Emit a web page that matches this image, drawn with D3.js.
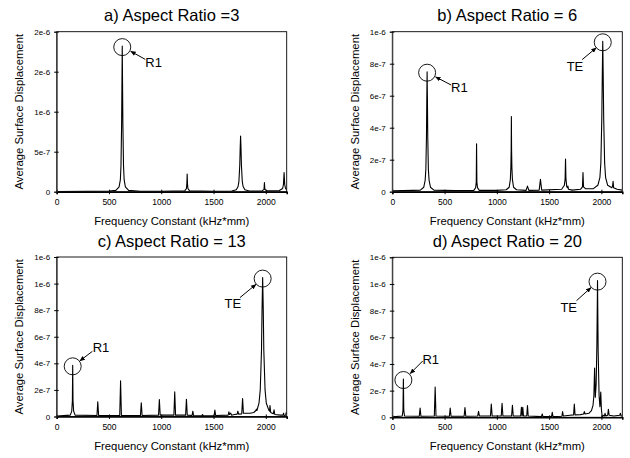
<!DOCTYPE html>
<html><head><meta charset="utf-8">
<script src="https://cdn.jsdelivr.net/npm/d3@7"></script>
<style>
html,body{margin:0;padding:0;background:#fff;}
text{font-family:"Liberation Sans",Arial,sans-serif;fill:#000;}
</style></head>
<body>
<svg id="chart" width="630" height="458"></svg>
<script>
// ---------- DATA ----------
const titles = ["a) Aspect Ratio =3", "b) Aspect Ratio = 6", "c) Aspect Ratio = 13", "d) Aspect Ratio = 20"];
const xTicks = [0, 500, 1000, 1500, 2000];
const xTickLabels = ["0", "500", "1000", "1500", "2000"];
const yTicksA = [0, 5e-7, 1e-6, 1.5e-6, 2e-6];
const yLabelsA = ["0", "5e-7", "1e-6", "2e-6", "2e-6"];
const yTicksB = [0, 2e-7, 4e-7, 6e-7, 8e-7, 1e-6];
const yLabelsB = ["0", "2e-7", "4e-7", "6e-7", "8e-7", "1e-6"];
const yTicksCD = [0, 2e-7, 4e-7, 6e-7, 8e-7, 1e-6, 1.2e-6];
const yLabelsCD = ["0", "2e-7", "4e-7", "6e-7", "8e-7", "1e-6", "1e-6"];
const yMax = [2e-6, 1e-6, 1.2e-6, 1.2e-6];
const xMax = 2200;

// spectra: [frequency constant, average surface displacement]
const spectrumA = [
  [0,3e-9],[300,5e-9],[500,8e-9],[566,1.6e-8],[597,6e-8],[609,1.5e-7],[615,3.3e-7],[621,8.5e-7],[627,1.82e-6],
  [633,8.5e-7],[639,3.3e-7],[645,1.5e-7],[657,6e-8],[688,1.6e-8],[800,6e-9],[1000,5e-9],
  [1225,1e-8],[1241,4e-8],[1245,1e-7],[1248,2.2e-7],[1251,1e-7],[1255,4e-8],[1271,1e-8],
  [1500,6e-9],[1675,8e-9],[1718,2.5e-8],[1735,6.5e-8],[1743,1.3e-7],[1751,3.3e-7],[1755,5.4e-7],[1759,6.96e-7],
  [1763,5.4e-7],[1767,3.3e-7],[1775,1.3e-7],[1783,6.5e-8],[1800,2.5e-8],[1843,8e-9],
  [1965,1e-8],[1983,3e-8],[1987,1.13e-7],[1991,3e-8],[2010,1e-8],
  [2130,1.5e-8],[2161,4e-8],[2169,9e-8],[2175,2.4e-7],[2181,9e-8],[2189,4e-8],[2200,2.5e-8]
];
const spectrumB = [
  [0,5e-9],[200,8e-9],[268,1e-8],[301,2.8e-8],[314,7e-8],[321,1.4e-7],[327,3.5e-7],[330,5.8e-7],[333,7.5e-7],
  [336,5.8e-7],[339,3.5e-7],[345,1.4e-7],[352,7e-8],[365,2.8e-8],[398,1e-8],[600,7e-9],
  [780,8e-9],[797,2.5e-8],[803,6e-8],[806,3e-7],[809,6e-8],[815,2.5e-8],[832,8e-9],[1000,8e-9],
  [1090,1.2e-8],[1118,2.8e-8],[1129,7.5e-8],[1134,1.5e-7],[1137,2.6e-7],[1139,4.7e-7],[1141,2.6e-7],[1144,1.5e-7],
  [1149,7.5e-8],[1160,2.8e-8],[1188,1.2e-8],
  [1280,8e-9],[1293,3.5e-8],[1306,8e-9],[1405,1e-8],[1417,7.7e-8],[1429,1e-8],
  [1620,1.5e-8],[1646,4e-8],[1653,8e-8],[1657,2.04e-7],[1661,8e-8],[1669,3e-8],[1676,2.5e-8],[1680,3.5e-8],[1685,1.5e-8],[1720,1e-8],
  [1800,1.5e-8],[1819,3e-8],[1824,1.2e-7],[1829,3e-8],[1850,1.8e-8],
  [1920,1.8e-8],[1966,4e-8],[1986,9e-8],[1995,1.8e-7],[2004,4.6e-7],[2009,7.5e-7],[2013,9.4e-7],
  [2017,7.5e-7],[2022,4.6e-7],[2031,1.8e-7],[2040,9e-8],[2060,4e-8],[2100,2.5e-8],[2107,3.5e-8],
  [2112,6.5e-8],[2117,2.5e-8],[2150,1.5e-8],[2200,1e-8]
];
const spectrumC = [
  [0,3e-9],[130,1e-8],[144,4e-8],[150,1.2e-7],[153,3.85e-7],[156,1.2e-7],[162,4e-8],[176,1e-8],
  [385,8e-9],[393,1.1e-7],[401,8e-9],[603,8e-9],[611,2.68e-7],[619,8e-9],[801,8e-9],[809,1.03e-7],[817,8e-9],
  [974,1e-8],[982,1.28e-7],[990,1e-8],[1121,1e-8],[1129,1.85e-7],[1137,1e-8],[1233,1e-8],[1241,1.3e-7],[1249,1e-8],
  [1295,8e-9],[1302,4e-8],[1309,8e-9],[1388,5e-9],[1395,1.5e-8],[1402,5e-9],[1506,8e-9],[1513,4.8e-8],[1520,8e-9],
  [1640,1e-8],[1647,3.5e-8],[1654,1.5e-8],[1665,2.5e-8],[1672,1e-8],[1700,1.5e-8],[1726,1.8e-8],[1733,4e-8],[1740,1.8e-8],
  [1770,2e-8],[1778,1.35e-7],[1786,2.5e-8],[1850,2.5e-8],[1885,3e-8],[1905,4.5e-8],[1910,5.5e-8],[1915,4.5e-8],
  [1935,1e-7],[1947,2e-7],[1959,5e-7],[1964,8e-7],[1970,1.045e-6],[1976,8e-7],[1981,5e-7],[1993,2e-7],
  [2005,1e-7],[2028,5e-8],[2036,4e-8],[2040,8.3e-8],[2047,3e-8],[2072,2e-8],[2079,5e-8],[2086,1.5e-8],
  [2140,1e-8],[2165,1e-8],[2170,2.5e-8],[2175,8e-9],[2190,1e-8],[2195,3e-8],[2200,2e-8]
];
const spectrumD = [
  [0,3e-9],[95,1e-8],[102,5e-8],[106,2.87e-7],[110,5e-8],[117,1e-8],[258,8e-9],[266,7e-8],[274,8e-9],
  [402,1e-8],[410,2.27e-7],[418,1e-8],[546,8e-9],[554,7e-8],[562,8e-9],[687,8e-9],[695,7.3e-8],[703,8e-9],
  [817,1e-8],[825,4.5e-8],[833,1e-8],[939,1e-8],[947,1e-7],[955,1e-8],[1042,1e-8],[1050,1.05e-7],[1058,1e-8],
  [1141,1e-8],[1149,9e-8],[1157,1e-8],[1228,1e-8],[1235,7.5e-8],[1242,1e-8],[1248,7.5e-8],[1255,1e-8],
  [1286,1e-8],[1293,8.8e-8],[1300,1e-8],[1427,5e-9],[1434,2.5e-8],[1441,5e-9],[1523,5e-9],[1530,3.8e-8],[1537,5e-9],
  [1622,8e-9],[1629,4.3e-8],[1636,1e-8],[1700,1.5e-8],[1734,1.8e-8],[1741,1e-7],[1748,1.8e-8],[1800,2e-8],
  [1830,2.5e-8],[1837,4.3e-8],[1844,2.5e-8],[1880,3e-8],[1905,5e-8],[1920,9e-8],[1928,1.6e-7],[1935,3.7e-7],
  [1942,1.5e-7],[1950,2.5e-7],[1957,5.5e-7],[1963,1.025e-6],[1969,5e-7],[1978,1.6e-7],[1986,8e-8],[1994,1.9e-7],
  [2000,6e-8],[2008,2e-9],[2020,1.5e-8],[2030,1e-8],[2035,3e-8],[2042,1e-8],[2060,1.5e-8],[2067,6e-8],[2074,1.5e-8],
  [2120,1e-8],[2175,1.5e-8],[2182,3e-8],[2189,1e-8],[2200,1e-8]
];
const spectra = [spectrumA, spectrumB, spectrumC, spectrumD];
const yTickSets = [yTicksA, yTicksB, yTicksCD, yTicksCD];
const yLabelSets = [yLabelsA, yLabelsB, yLabelsCD, yLabelsCD];

// annotated peaks: [panel, label, frequency, displacement]
const annotations = [
  [0, "R1", 627, 1.82e-6],
  [1, "R1", 333, 7.5e-7],
  [1, "TE", 2013, 9.4e-7],
  [2, "R1", 153, 3.85e-7],
  [2, "TE", 1970, 1.045e-6],
  [3, "R1", 106, 2.87e-7],
  [3, "TE", 1963, 1.025e-6]
];

// ---------- LAYOUT ----------
const panels = [
  {l: 56.7, r: 286.7, t: 31.7, b: 191.7},
  {l: 392.3, r: 622.3, t: 31.7, b: 191.7},
  {l: 56.7, r: 286.7, t: 257, b: 416.5},
  {l: 392.3, r: 622.3, t: 257.3, b: 417.3}
];
// annotation geometry (relative to circle centre): arrow start, arrow end, label anchor
const annGeom = {
  "0R1": {s:[23,12.3], e:[8.5,4.2], t:[23,19.5], anchor:"start"},
  "1R1": {s:[24,12.3], e:[8.5,4.2], t:[24,19.5], anchor:"start"},
  "1TE": {s:[-20.6,17.3], e:[-6.5,5.5], t:[-19.5,29], anchor:"end"},
  "2R1": {s:[19.7,-15], e:[7.2,-5.5], t:[20,-14.7], anchor:"start"},
  "2TE": {s:[-22.7,19], e:[-6.7,5.8], t:[-21.5,29.7], anchor:"end"},
  "3R1": {s:[19.3,-19], e:[6.8,-6.5], t:[19,-15.7], anchor:"start"},
  "3TE": {s:[-21,19], e:[-6.5,6], t:[-20.5,30], anchor:"end"}
};

const svg = d3.select("#chart");
const defs = svg.append("defs");
defs.append("marker").attr("id","arrowhead").attr("viewBox","0 0 10 10")
  .attr("refX",9).attr("refY",5).attr("markerWidth",5.5).attr("markerHeight",5.5)
  .attr("markerUnits","userSpaceOnUse").attr("orient","auto")
  .append("path").attr("d","M0,1 L10,5 L0,9 Z").attr("fill","#000");

panels.forEach((p, i) => {
  const x = d3.scaleLinear().domain([0, xMax]).range([p.l, p.r]);
  const y = d3.scaleLinear().domain([0, yMax[i]]).range([p.b, p.t]);
  const g = svg.append("g");

  defs.append("clipPath").attr("id","clip"+i).append("rect")
    .attr("x",p.l).attr("y",p.t-1).attr("width",p.r-p.l).attr("height",p.b-p.t+1);

  // spectrum line
  const line = d3.line().x(d => x(d[0])).y(d => y(d[1])).curve(d3.curveLinear);
  g.append("path").datum(spectra[i]).attr("d", line)
    .attr("fill","none").attr("stroke","#000").attr("stroke-width",1.1)
    .attr("stroke-linejoin","round")
    .attr("clip-path","url(#clip"+i+")");

  // frame
  g.append("rect").attr("x",p.l).attr("y",p.t).attr("width",p.r-p.l).attr("height",p.b-p.t)
    .attr("fill","none").attr("stroke","#000").attr("stroke-width",0.9);

  // x axis
  const xa = g.append("g").attr("transform",`translate(0,${p.b})`)
    .call(d3.axisBottom(x).tickValues(xTicks).tickFormat((d,k)=>xTickLabels[k]).tickSize(2.5).tickPadding(4.5));
  xa.select(".domain").attr("stroke","#000").attr("stroke-width",1.6);
  xa.selectAll(".tick line").attr("y1",-2).attr("stroke","#000");
  xa.selectAll(".tick text").attr("font-size","8.5px").attr("font-family","'Liberation Sans',Arial,sans-serif");

  // y axis
  const ya = g.append("g").attr("transform",`translate(${p.l},0)`)
    .call(d3.axisLeft(y).tickValues(yTickSets[i]).tickFormat((d,k)=>yLabelSets[i][k]).tickSize(2.5).tickPadding(4));
  ya.select(".domain").attr("stroke","#444").attr("stroke-width",1);
  ya.selectAll(".tick line").attr("x1",2).attr("stroke","#000");
  ya.selectAll(".tick text").attr("font-size","8px").attr("font-family","'Liberation Sans',Arial,sans-serif");

  // titles
  const cx = (p.l + p.r) / 2;
  g.append("text").attr("x",cx).attr("y",p.t-10.5).attr("text-anchor","middle")
    .attr("font-size","16.5px").text(titles[i]);
  g.append("text").attr("x",cx).attr("y",p.b+33).attr("text-anchor","middle")
    .attr("font-size","11.3px").text("Frequency Constant (kHz*mm)");
  g.append("text").attr("transform",`translate(${p.l-33.5},${(p.t+p.b)/2}) rotate(-90)`)
    .attr("text-anchor","middle").attr("font-size","11.3px").text("Average Surface Displacement");
});

// annotations
annotations.forEach(a => {
  const [pi, label, f, v] = a;
  const p = panels[pi];
  const x = d3.scaleLinear().domain([0, xMax]).range([p.l, p.r]);
  const y = d3.scaleLinear().domain([0, yMax[pi]]).range([p.b, p.t]);
  const cx = x(f), cy = y(v) + 1;
  const gm = annGeom[pi + label];
  const g = svg.append("g");
  g.append("circle").attr("cx",cx).attr("cy",cy).attr("r",8.5)
    .attr("fill","none").attr("stroke","#000").attr("stroke-width",0.9);
  g.append("line").attr("x1",cx+gm.s[0]).attr("y1",cy+gm.s[1]).attr("x2",cx+gm.e[0]).attr("y2",cy+gm.e[1])
    .attr("stroke","#000").attr("stroke-width",1).attr("marker-end","url(#arrowhead)");
  g.append("text").attr("x",cx+gm.t[0]).attr("y",cy+gm.t[1]).attr("text-anchor",gm.anchor)
    .attr("font-size","13px").text(label);
});
</script>
</body></html>
